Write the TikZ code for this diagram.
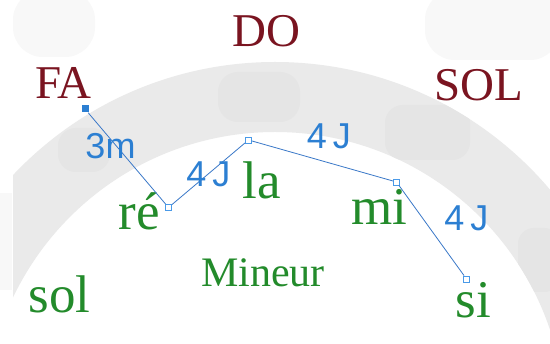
\documentclass[tikz,border=0pt]{standalone}
\usepackage{fontspec}
\setmainfont{Liberation Serif}
\newfontfamily\hand{Liberation Sans}
\definecolor{ringgray}{HTML}{EAEAEA}
\definecolor{blobgray}{HTML}{E5E5E5}
\definecolor{palegray}{HTML}{F8F8F8}
\definecolor{keyred}{HTML}{7A1420}
\definecolor{keygreen}{HTML}{238B2B}
\definecolor{labblue}{HTML}{2C7FD2}
\definecolor{lineblue}{HTML}{3A78C8}
\definecolor{sqblue}{HTML}{4A9AE8}
\tikzset{
  major/.style={text=keyred, inner sep=0pt, anchor=base, font=\fontsize{47}{47}\selectfont},
  minor/.style={text=keygreen, inner sep=0pt, anchor=base, font=\fontsize{53}{53}\selectfont},
  modelabel/.style={text=keygreen, inner sep=0pt, anchor=base, font=\fontsize{42}{42}\selectfont},
  ivl/.style={text=labblue, inner sep=0pt, font=\hand\fontsize{36}{36}\selectfont},
  sqpt/.style={draw=sqblue, fill=white, line width=0.9pt, minimum size=6pt, inner sep=0pt},
  sqfirst/.style={fill=labblue, minimum size=7pt, inner sep=0pt},
  link/.style={draw=lineblue, line width=0.8pt}
}
\begin{document}
\begin{tikzpicture}[x=1pt,y=-1pt]
\useasboundingbox (0,0) rectangle (550,344);
\fill[white] (0,0) rectangle (550,344);
% faint background patches
\fill[palegray, rounded corners=30pt] (13,-10) rectangle (95,57);
\fill[palegray, rounded corners=30pt] (425,-10) rectangle (560,60);
\fill[palegray] (0,193) rectangle (12,290);
% ring
\begin{scope}[even odd rule]
\clip (13,0) rectangle (550,344);
\fill[ringgray] (275,422) circle (360pt) (275,422) circle (290pt);
\clip (275,422) circle (360pt) (275,422) circle (290pt);
\fill[blobgray, rounded corners=20pt] (218,72) rectangle (300,122);
\fill[blobgray, rounded corners=18pt] (58,128) rectangle (110,172);
\fill[blobgray, rounded corners=18pt] (385,105) rectangle (470,160);
\fill[blobgray, rounded corners=16pt] (518,228) rectangle (560,292);
\end{scope}
% major keys
\node[major] (DO) at (266.5,47) {DO};
\node[major] (FA) at (63.5,99) {FA};
\node[major] (SOL) at (479,101) {SOL};
% minor keys
\node[minor] (la) at (261.5,199) {la};
\node[minor] (re) at (139,230) {ré};
\node[minor] (mi) at (379,225) {mi};
\node[minor] (sol) at (59.5,313) {sol};
\node[minor] (si) at (473.5,318) {si};
\node[modelabel] (mineur) at (263,287) {Mineur};
% path
\node[sqfirst] (p1) at (85,109) {};
\node[sqpt] (p2) at (168.5,207.5) {};
\node[sqpt] (p3) at (248.5,140) {};
\node[sqpt] (p4) at (396.5,182) {};
\node[sqpt] (p5) at (466.5,279) {};
\draw[link] (p1) -- (p2);
\draw[link] (p2) -- (p3);
\draw[link] (p3) -- (p4);
\draw[link] (p4) -- (p5);
% interval labels
\node[ivl] (l1) at (110.5,146) {3m};
\node[ivl] (l2) at (208.5,174) {4\hspace{6pt}J};
\node[ivl] (l3) at (329,136) {4\hspace{6pt}J};
\node[ivl] (l4) at (466.5,218) {4\hspace{6pt}J};
\end{tikzpicture}
\end{document}
